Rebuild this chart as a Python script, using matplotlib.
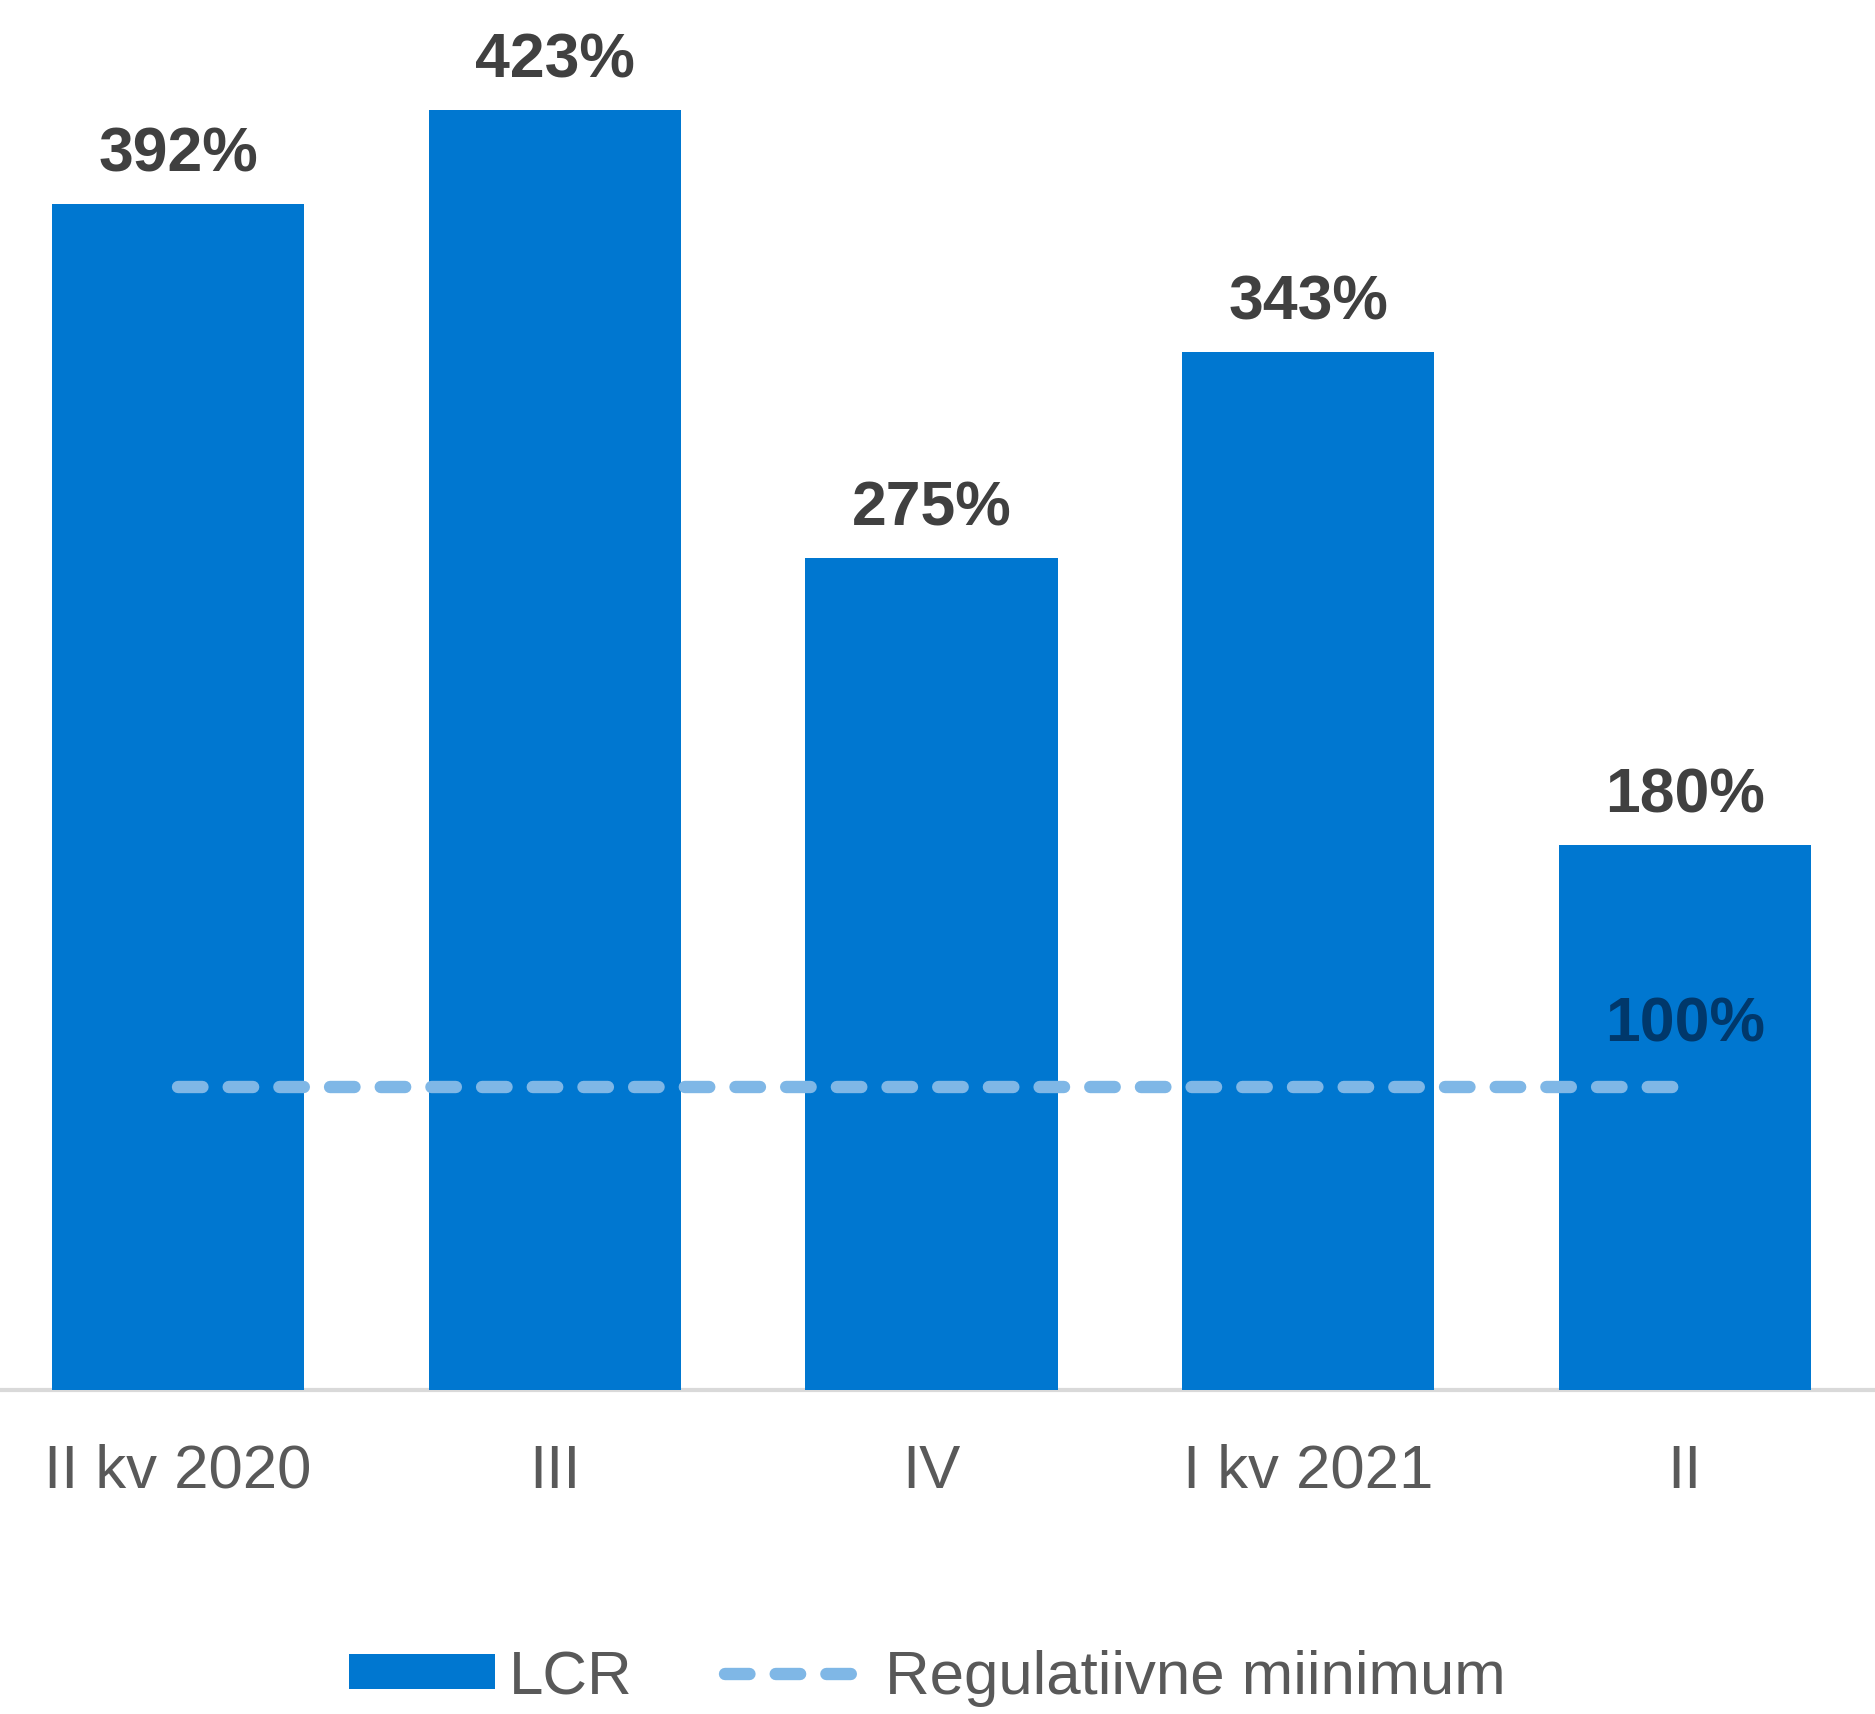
"""
LCR（流動性カバレッジ比率）の四半期推移 — 規制上の最低水準と比較
"""

import matplotlib
matplotlib.use('Agg')
import matplotlib.pyplot as plt
from matplotlib.lines import Line2D
from matplotlib.patches import Patch

plt.rcParams['font.family'] = ['Liberation Sans', 'DejaVu Sans']

# データ
QUARTERS = ["II kv 2020", "III", "IV", "I kv 2021", "II"]
LCR_VALUES = [392, 423, 275, 343, 180]
REG_MINIMUM = [100, 100, 100, 100, 100]

# 色
BAR_COLOR = "#0077D0"
LINE_COLOR = "#7FB7E6"
LABEL_COLOR = "#404040"
MIN_LABEL_COLOR = "#00386B"
TICK_COLOR = "#595959"
AXIS_COLOR = "#D9D9D9"


def plot_lcr() -> None:
    """棒グラフ＋最低水準の破線"""
    fig = plt.figure(figsize=(18.75, 17.15), dpi=100)
    ax = fig.add_axes([0.0, 0.189, 1.0, 0.811])

    x = list(range(len(QUARTERS)))
    ax.bar(x, LCR_VALUES, width=0.67, color=BAR_COLOR, zorder=2)
    ax.plot(x, REG_MINIMUM, color=LINE_COLOR, linewidth=8.9,
            dashes=(1.98, 2.12), dash_capstyle='round', zorder=3)

    # 値ラベル
    for i, v in enumerate(LCR_VALUES):
        ax.annotate(f'{v}%', (i, v), xytext=(0, 24), textcoords='offset points',
                    ha='center', va='baseline', fontsize=45, fontweight='bold',
                    color=LABEL_COLOR)
    last = len(REG_MINIMUM) - 1
    ax.annotate(f'{REG_MINIMUM[last]}%', (last, REG_MINIMUM[last]), xytext=(0, 34),
                textcoords='offset points', ha='center', va='baseline',
                fontsize=45, fontweight='bold', color=MIN_LABEL_COLOR, zorder=4)

    ax.set_xlim(-0.473, 4.505)
    ax.set_ylim(0, 459.7)
    ax.set_xticks(x)
    ax.set_xticklabels(QUARTERS, fontsize=44.5, color=TICK_COLOR)
    ax.tick_params(axis='x', length=0, pad=38)
    ax.set_yticks([])
    for side in ('top', 'right', 'left'):
        ax.spines[side].set_visible(False)
    ax.spines['bottom'].set_color(AXIS_COLOR)
    ax.spines['bottom'].set_linewidth(3)
    ax.spines['bottom'].set_zorder(1)

    # 凡例
    handles = [
        Patch(facecolor=BAR_COLOR, edgecolor='none'),
        Line2D([0], [0], color=LINE_COLOR, linewidth=8.9,
               dashes=(1.98, 2.12), dash_capstyle='round'),
    ]
    fig.legend(handles, ["LCR", "Regulatiivne miinimum"], loc='center',
               bbox_to_anchor=(0.4946, 0.021), ncol=2, frameon=False,
               fontsize=44.5, labelcolor=TICK_COLOR, handlelength=2.35,
               handleheight=0.48, handletextpad=0.23, columnspacing=1.5)

    fig.savefig('out.png', dpi=100)
    plt.close(fig)


if __name__ == "__main__":
    plot_lcr()
